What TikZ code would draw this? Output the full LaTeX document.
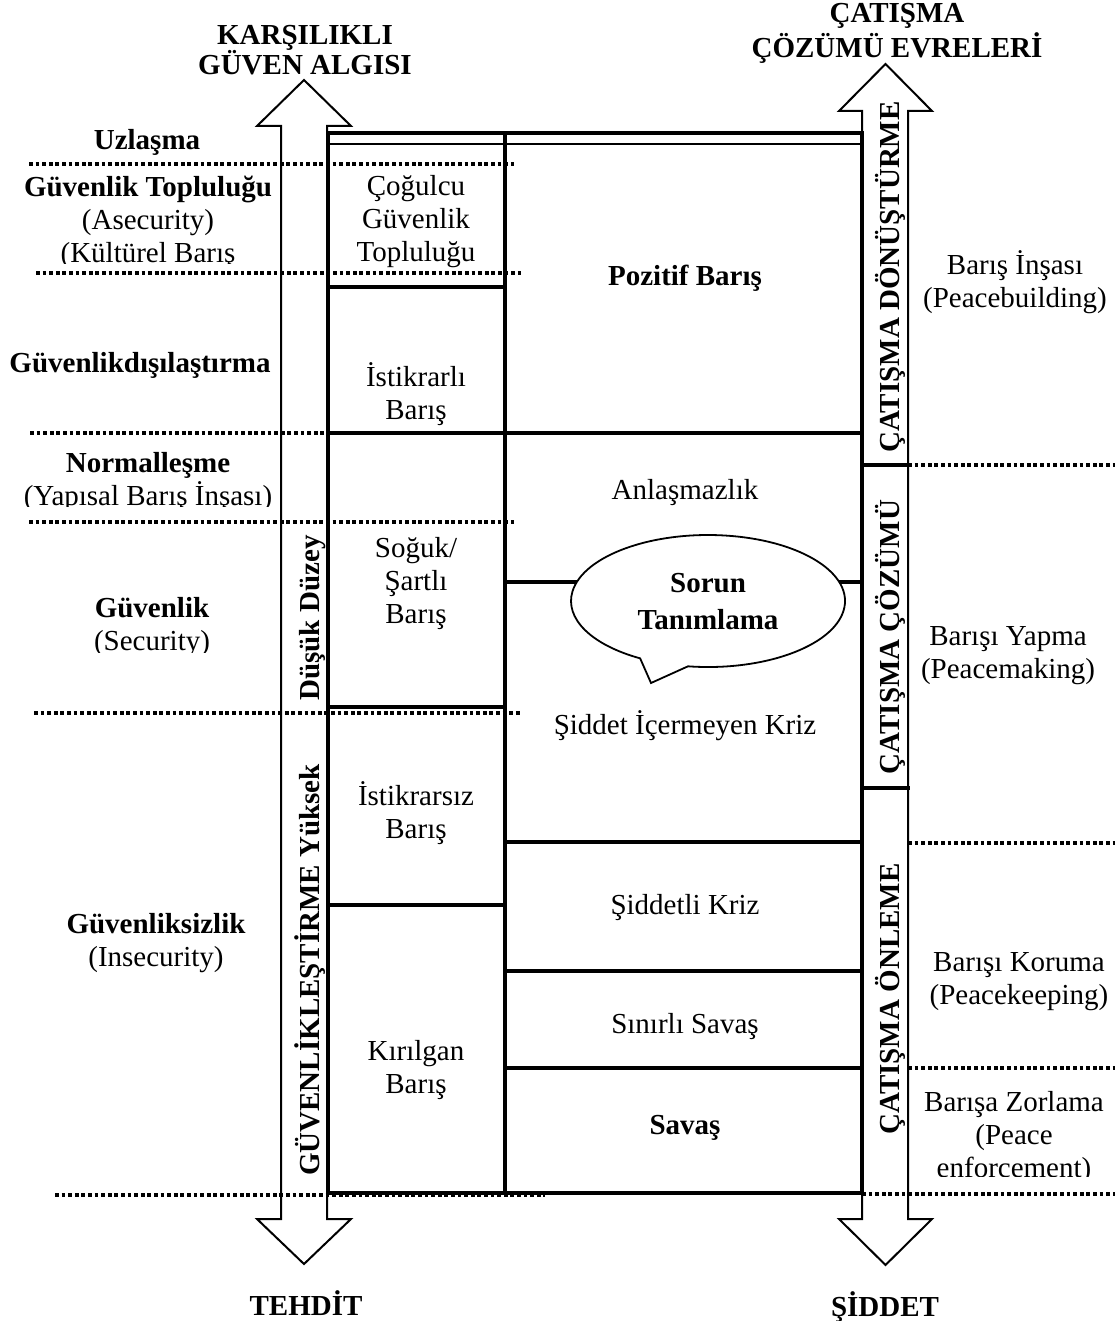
\documentclass[tikz,border=0pt]{standalone}
\usepackage{fontspec}
\setmainfont{Liberation Serif}
\begin{document}
\begin{tikzpicture}[x=0.5pt, y=-0.5pt,
  txt/.style={font=\fontsize{14.5}{16.5}\selectfont, inner sep=0pt, align=center},
  bold/.style={txt, font=\fontsize{14.5}{16.5}\selectfont\bfseries},
  vlabel/.style={bold, rotate=90, anchor=base},
  heavy/.style={line width=2pt},
  slim/.style={line width=1pt},
  dotline/.style={line width=1.7pt, dash pattern=on 1.9pt off 1.4pt},
  shaft/.style={draw, fill=white, line width=1pt, line join=miter},
]
% page
\fill[white] (0,0) rectangle (1115,1321);
\useasboundingbox (0,0) rectangle (1115,1321);

% two-headed block arrows
\path[shaft] (281,126) -- (257,126) -- (304,80) -- (351,126) -- (327,126)
  -- (327,1219) -- (351,1219) -- (304,1264) -- (257,1219) -- (281,1219) -- cycle;
\path[shaft] (862,111) -- (839,111) -- (885.5,64) -- (932,111) -- (908,111)
  -- (908,1219) -- (932,1219) -- (885.5,1265) -- (839,1219) -- (862,1219) -- cycle;

% dotted level lines
\draw[dotline] (29,164) -- (514,164);
\draw[dotline] (36,273) -- (521,273);
\draw[dotline] (30,433) -- (328,433);
\draw[dotline] (29,522) -- (514,522);
\draw[dotline] (34,713) -- (521,713);
\draw[dotline] (55,1195) -- (545,1195);
\draw[dotline] (908,465) -- (1115,465);
\draw[dotline] (908,843) -- (1115,843);
\draw[dotline] (908,1068) -- (1115,1068);
\draw[dotline] (862,1194) -- (1115,1194);

% table frame
\draw[heavy] (328,133) rectangle (862,1193);
\draw[slim] (328,144) -- (862,144);
\draw[heavy] (505,133) -- (505,1193);
% left column rows
\draw[heavy] (328,287) -- (505,287);
\draw[heavy] (328,433) -- (862,433);
\draw[heavy] (328,707) -- (505,707);
\draw[heavy] (328,905) -- (505,905);
% right column rows
\draw[heavy] (505,582) -- (862,582);
\draw[heavy] (505,842) -- (862,842);
\draw[heavy] (505,971) -- (862,971);
\draw[heavy] (505,1068) -- (862,1068);
% phase separators inside the right arrow
\draw[heavy] (862,465) -- (910,465);
\draw[heavy] (862,788) -- (910,788);

% speech bubble
\draw[line width=0.9pt, fill=white] (688,666.3)
  arc[start angle=98.4, end angle=-240.3, x radius=137, y radius=66]
  -- (651,683) -- cycle;

% headings
\node[bold] (guvenalg) at (305,50) {KARŞILIKLI\\[-1.5pt]GÜVEN ALGISI};
\node[bold] (evreler) at (897,33) {ÇATIŞMA\\[1pt]ÇÖZÜMÜ EVRELERİ};
\node[bold] (tehdit) at (306,1303) {TEHDİT};
\node[bold] (siddet) at (885,1307) {ŞİDDET};

% left-hand levels
\node[bold] (uzlasma) at (147,142) {Uzlaşma};
\begin{scope}
  \clip (0,170) rectangle (320,263);
  \node[txt] (toplulugu) at (148,222) {\textbf{Güvenlik Topluluğu}\\(Asecurity)\\(Kültürel Barış};
\end{scope}
\node[bold] (disilas) at (140,365) {Güvenlikdışılaştırma};
\begin{scope}
  \clip (0,440) rectangle (320,506);
  \node[txt] (normal) at (148,482) {\textbf{Normalleşme}\\(Yapısal Barış İnşası)};
\end{scope}
\begin{scope}
  \clip (0,590) rectangle (320,652);
  \node[txt] (guvenlik) at (152,627) {\textbf{Güvenlik}\\(Security)};
\end{scope}
\node[txt] (guvsiz) at (156,943) {\textbf{Güvenliksizlik}\\(Insecurity)};

% left column cells
\node[txt] (cogulcu) at (416,222) {Çoğulcu\\Güvenlik\\Topluluğu};
\node[txt] (istikrarli) at (416,394) {İstikrarlı\\Barış};
\node[txt] (soguk) at (416,584) {Soğuk/\\Şartlı\\Barış};
\node[txt] (istikrarsiz) at (416,813) {İstikrarsız\\Barış};
\node[txt] (kirilgan) at (416,1070) {Kırılgan\\Barış};

% right column cells
\node[bold] (pozitif) at (685,278) {Pozitif Barış};
\node[txt] (anlasma) at (685,493) {Anlaşmazlık};
\node[bold] (sorun) at (708,602) {Sorun\\[2pt]Tanımlama};
\node[txt] (icermeyen) at (685,726) {Şiddet İçermeyen Kriz};
\node[txt] (siddetli) at (685,908) {Şiddetli Kriz};
\node[txt] (sinirli) at (685,1027) {Sınırlı Savaş};
\node[bold] (savas) at (685,1128) {Savaş};

% right-hand interventions
\node[txt] (insa) at (1015,282) {Barış İnşası\\(Peacebuilding)};
\node[txt] (yapma) at (1008,656) {Barışı Yapma\\(Peacemaking)};
\node[txt] (koruma) at (1019,982) {Barışı Koruma\\(Peacekeeping)};
\begin{scope}
  \clip (908,1075) rectangle (1115,1176);
  \node[txt] (zorlama) at (1014,1138) {Barışa Zorlama\\(Peace\\enforcement)};
\end{scope}

% labels running along the arrow shafts
\begin{scope}
  \clip (281,80) rectangle (327,1264);
  \node[vlabel] (dusuk) at (319,618) {Düşük Düzey};
  \node[vlabel] (yuksek) at (319,970) {GÜVENLİKLEŞTİRME Yüksek};
\end{scope}
\begin{scope}
  \clip (862,64) rectangle (908,1265);
  \node[vlabel] (donusturme) at (899,277) {ÇATIŞMA DÖNÜŞTÜRME};
  \node[vlabel] (cozumu) at (899,637) {ÇATIŞMA ÇÖZÜMÜ};
  \node[vlabel] (onleme) at (899,999) {ÇATIŞMA ÖNLEME};
\end{scope}
\end{tikzpicture}
\end{document}
